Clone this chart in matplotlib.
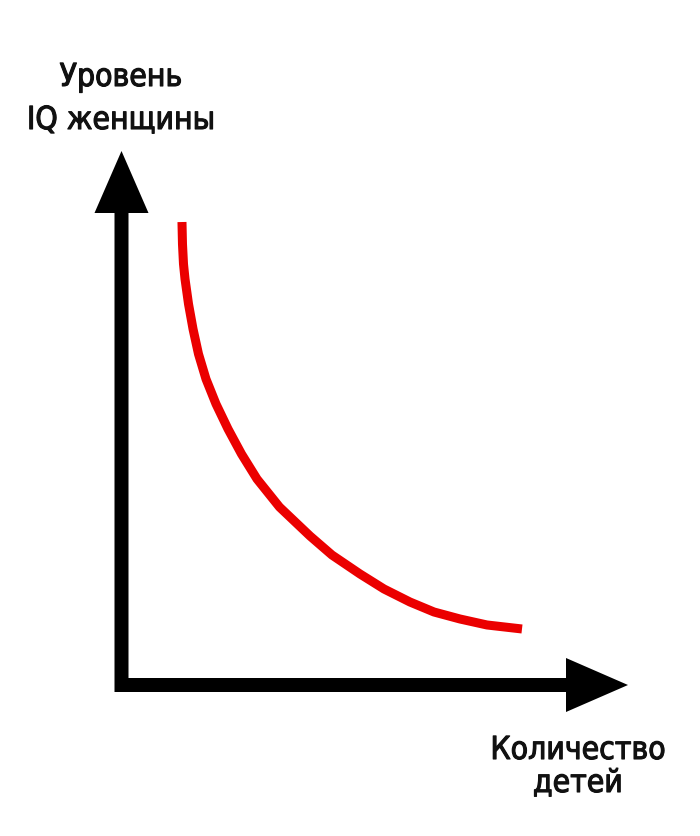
import numpy as np
import matplotlib
matplotlib.use("Agg")
import matplotlib.pyplot as plt
from matplotlib.patches import FancyArrow
import matplotlib.patheffects as pe

# curve (no scale on the chart, axes run 0..10)
kids = [1.194, 1.204, 1.224, 1.254, 1.323, 1.412, 1.520, 1.668, 1.866,
        2.103, 2.369, 2.675, 3.119, 3.722, 4.156, 4.709, 5.183, 5.696,
        6.170, 6.683, 7.216, 7.907]
iq = [8.670, 8.258, 7.884, 7.603, 7.135, 6.667, 6.199, 5.730, 5.262,
      4.794, 4.326, 3.858, 3.333, 2.790, 2.434, 2.079, 1.798, 1.554,
      1.367, 1.236, 1.124, 1.049]

y_label = ["Уровень", "IQ женщины"]
x_label = ["Количество", "детей"]

W, H = 700, 837
fig = plt.figure(figsize=(W / 100, H / 100), dpi=100)

# background axes in pixel units for the arrows and the labels
bg = fig.add_axes([0, 0, 1, 1])
bg.set_xlim(0, W)
bg.set_ylim(H, 0)
bg.axis("off")

ox, oy = 121.5, 686   # origin
tx, ty = 628, 152     # arrow tips
bg.add_patch(FancyArrow(ox, 693, 0, ty - 693, width=14, head_width=54,
                        head_length=62, length_includes_head=True,
                        color="black", lw=0))
bg.add_patch(FancyArrow(115, oy, tx - 115, 0, width=14, head_width=54,
                        head_length=62, length_includes_head=True,
                        color="black", lw=0))

font = dict(family="DejaVu Sans", stretch="condensed", fontsize=22.8,
            color="#111111", ha="center", va="baseline",
            path_effects=[pe.withStroke(linewidth=0.8, foreground="#111111")])
bg.text(121, 87, y_label[0], **font)
bg.text(121, 130, y_label[1], **font)
bg.text(578, 760, x_label[0], **font)
bg.text(578, 793, x_label[1], **font)

# data axes sitting on the drawn arrows
ax = fig.add_axes([ox / W, 1 - oy / H, (tx - ox) / W, (oy - ty) / H])
ax.set_xlim(0, 10)
ax.set_ylim(0, 10)
ax.axis("off")
ax.patch.set_alpha(0)

ax.plot(kids, iq, color="#eb0000", lw=6.5, solid_capstyle="butt",
        solid_joinstyle="round")

fig.savefig("out.png", dpi=100)
